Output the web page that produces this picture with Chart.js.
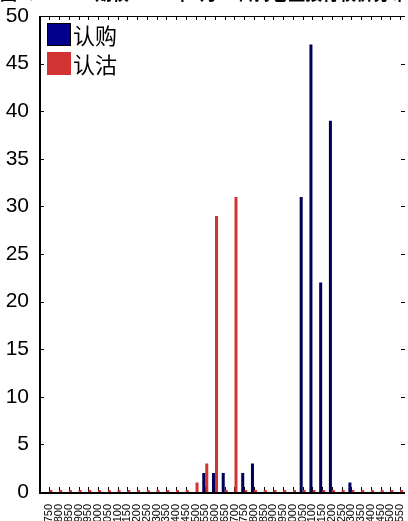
<!DOCTYPE html>
<html>
<head>
<meta charset="utf-8">
<script src="https://cdn.jsdelivr.net/npm/chart.js@4.4.1/dist/chart.umd.min.js"></script>
<style>
  body { margin: 0; background: #fff; overflow: hidden; }
  #wrap { position: relative; width: 408px; height: 530px; }
  #legend { position: absolute; left: 47px; top: 23px; }
  .item { display: flex; align-items: center; height: 23px; margin-bottom: 6px; }
  .box { width: 24px; height: 23px; box-sizing: border-box; margin-right: 2px; }
  .item span { font: 22px/23px "Noto Sans CJK SC", sans-serif; color: #000; }
</style>
</head>
<body>
<div id="wrap">
  <canvas id="chart" width="408" height="530"></canvas>
  <div id="legend"></div>
</div>
<script>
// strike prices on the x axis
const strikes = [
  "2750", "2800", "2850", "2900", "2950", "3000", "3050", "3100", "3150",
  "3200", "3250", "3300", "3350", "3400", "3450", "3500", "3550", "3600",
  "3650", "3700", "3750", "3800", "3850", "3900", "3950", "4000", "4050",
  "4100", "4150", "4200", "4250", "4300", "4350", "4400", "4450", "4500", "4550",
];
// 认购 (calls)
const callVals = [
  0, 0, 0, 0, 0, 0, 0, 0, 0,
  0, 0, 0, 0, 0, 0, 0, 2, 2,
  2, 0, 2, 3, 0, 0, 0, 0, 31,
  47, 22, 39, 0, 1, 0, 0, 0, 0, 0,
];
// 认沽 (puts)
const putVals = [
  0, 0, 0, 0, 0, 0, 0, 0, 0,
  0, 0, 0, 0, 0, 0, 1, 3, 29,
  0, 31, 0, 0, 0, 0, 0, 0, 0,
  0, 0, 0, 0, 0, 0, 0, 0, 0, 0,
];
const yTicks = [0, 5, 10, 15, 20, 25, 30, 35, 40, 45, 50];
// title of the figure, mostly cut off by the top edge in the original
const titleText = "图4：50ETF期权 2015年3月18日持仓量按行权价分布";

const BLUE = "#00008c";
const BLUE_BAR = "#00005a"; // thin bars read darker because of their black edge
const RED = "#d23434";
const SPINE_GAP = 4.5; // left spine sits a bit left of the first category slot

// axes box with inward ticks, like the original figure
const framePlugin = {
  id: "frame",
  beforeDatasetsDraw(chart) {
    const { ctx, chartArea: a, scales } = chart;
    const x = scales.x, y = scales.y;
    const left = a.left - SPINE_GAP;
    ctx.save();
    ctx.strokeStyle = "#000";
    ctx.lineWidth = 2;
    ctx.beginPath();
    ctx.moveTo(left, a.top);
    ctx.lineTo(left, a.bottom + 1);
    ctx.lineTo(a.right, a.bottom + 1);
    ctx.stroke();
    ctx.lineWidth = 1;
    ctx.beginPath();
    ctx.moveTo(left, a.top + 0.5);
    ctx.lineTo(a.right, a.top + 0.5);
    x.ticks.forEach((t, i) => {
      const px = Math.round(x.getPixelForTick(i)) + 0.5;
      ctx.moveTo(px, a.bottom);
      ctx.lineTo(px, a.bottom - 5);
      ctx.moveTo(px, a.top);
      ctx.lineTo(px, a.top + 4);
    });
    y.ticks.forEach((t) => {
      const py = Math.round(y.getPixelForValue(t.value)) + 0.5;
      ctx.moveTo(left, py);
      ctx.lineTo(left + 4, py);
      ctx.moveTo(a.right, py);
      ctx.lineTo(a.right - 4, py);
    });
    ctx.stroke();
    ctx.restore();
  },
  afterDraw(chart) {
    const ctx = chart.ctx;
    ctx.save();
    ctx.fillStyle = "#000";
    ctx.font = 'bold 17px "Noto Sans CJK SC"';
    ctx.textBaseline = "alphabetic";
    ctx.textAlign = "left";
    ctx.fillText(titleText, 0, 0);
    ctx.restore();
  },
};

const datasets = [
  {
    label: "认购",
    data: callVals,
    backgroundColor: BLUE_BAR,
    borderWidth: 0,
    categoryPercentage: 0.62,
    barPercentage: 1,
  },
  {
    label: "认沽",
    data: putVals,
    backgroundColor: RED,
    borderWidth: 0,
    minBarLength: 2,
    categoryPercentage: 0.62,
    barPercentage: 1,
  },
];
const legendItems = [
  { label: datasets[0].label, fill: BLUE, edge: "#000" },
  { label: datasets[1].label, fill: RED, edge: RED },
];

new Chart(document.getElementById("chart"), {
  type: "bar",
  data: { labels: strikes, datasets: datasets },
  plugins: [framePlugin],
  options: {
    responsive: false,
    animation: false,
    events: [],
    layout: { padding: { top: 16, right: 3, left: 0, bottom: 0 } },
    plugins: { legend: { display: false }, tooltip: { enabled: false } },
    scales: {
      x: {
        grid: { display: false },
        border: { display: false },
        ticks: {
          autoSkip: false,
          maxRotation: 90,
          minRotation: 90,
          padding: 4,
          color: "#000",
          font: { family: "Liberation Sans", size: 11 },
        },
        afterFit: (scale) => {
          scale.height = 38;
          scale.paddingLeft = 0;
          scale.paddingRight = 0;
        },
      },
      y: {
        min: 0,
        max: 50,
        grid: { display: false },
        border: { display: false },
        afterBuildTicks: (scale) => {
          scale.ticks = yTicks.map((v) => ({ value: v }));
        },
        ticks: {
          padding: 7.5,
          color: "#000",
          font: { family: "Liberation Sans", size: 21 },
        },
        afterFit: (scale) => {
          scale.width = 44.5;
          scale.paddingTop = 0;
          scale.paddingBottom = 0;
        },
      },
    },
  },
});

// legend in the upper-left corner of the plot
document.getElementById("legend").innerHTML = legendItems
  .map((d) => `<div class="item"><div class="box" style="background:${d.fill};border:1px solid ${d.edge}"></div><span>${d.label}</span></div>`)
  .join("");
</script>
</body>
</html>
